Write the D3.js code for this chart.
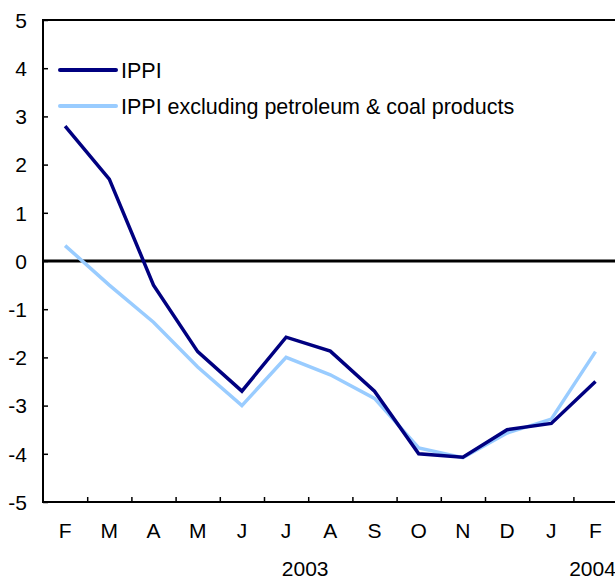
<!DOCTYPE html>
<html>
<head>
<meta charset="utf-8">
<script src="https://cdn.jsdelivr.net/npm/d3@7"></script>
<style>
  html, body { margin: 0; padding: 0; background: #fff; }
  svg { display: block; }
  text { font-family: "Liberation Sans", Arial, sans-serif; fill: #000; }
</style>
</head>
<body>
<svg id="chart" width="615" height="579"></svg>
<script>
const months = ["F","M","A","M","J","J","A","S","O","N","D","J","F"];
const ippi = [2.8, 1.7, -0.5, -1.88, -2.7, -1.58, -1.87, -2.7, -4.0, -4.07, -3.5, -3.37, -2.5];
const ippiExcl = [0.32, -0.5, -1.27, -2.2, -3.0, -2.0, -2.36, -2.85, -3.88, -4.08, -3.57, -3.28, -1.88];
const yTicks = [-5, -4, -3, -2, -1, 0, 1, 2, 3, 4, 5];
const yearLabels = [{label: "2003", pos: 5.5}, {label: "2004", pos: 12}];
const seriesNames = ["IPPI", "IPPI excluding petroleum & coal products"];
const seriesColors = ["#000080", "#99ccff"];

(function () {
const FS = 21;
const svg = d3.select("#chart");
const mLeft = 43, mTop = 20, mBottom = 502, step = 44.2;
const mRight = mLeft + step * months.length;

const x = d3.scaleBand().domain(d3.range(months.length)).range([mLeft, mRight]).padding(0);
const xb = d3.scaleLinear().domain([0, months.length]).range([mLeft, mRight]);
const y = d3.scaleLinear().domain([-5, 5]).range([mBottom, mTop]);

// top border
svg.append("line").attr("x1", mLeft).attr("x2", 615).attr("y1", y(5)).attr("y2", y(5))
  .attr("stroke", "#000").attr("stroke-width", 2);

// y axis
const yAxis = svg.append("g").attr("transform", `translate(${mLeft},0)`)
  .call(d3.axisLeft(y).tickValues(yTicks).tickSize(-5).tickPadding(16).tickFormat(d => String(d)));
yAxis.select(".domain").remove();
yAxis.selectAll(".tick line").attr("stroke", "#000").attr("stroke-width", 1.5);
yAxis.selectAll("text").attr("font-size", FS).attr("dy", "0.35em")
  .style("font-family", '"Liberation Sans", Arial, sans-serif');
svg.append("line").attr("x1", mLeft).attr("x2", mLeft).attr("y1", mTop - 1).attr("y2", mBottom + 1)
  .attr("stroke", "#000").attr("stroke-width", 2);

// x axis ticks at boundaries (inside)
const xTickAxis = svg.append("g").attr("transform", `translate(0,${mBottom})`)
  .call(d3.axisBottom(xb).tickValues(d3.range(1, months.length + 1)).tickSize(-5).tickFormat(""));
xTickAxis.select(".domain").remove();
xTickAxis.selectAll(".tick line").attr("stroke", "#000").attr("stroke-width", 1.5);

// x labels
const xLab = svg.append("g").attr("transform", `translate(0,${mBottom})`)
  .call(d3.axisBottom(x).tickSize(0).tickPadding(21).tickFormat(i => months[i]));
xLab.select(".domain").remove();
xLab.selectAll("text").attr("font-size", FS).style("font-family", '"Liberation Sans", Arial, sans-serif');

svg.append("line").attr("x1", mLeft - 1).attr("x2", 615).attr("y1", mBottom).attr("y2", mBottom)
  .attr("stroke", "#000").attr("stroke-width", 2);

// year labels
svg.selectAll(".year").data(yearLabels).enter().append("text")
  .attr("class", "year")
  .attr("x", d => xb(d.pos + 0.5) - 3)
  .attr("y", 576)
  .attr("text-anchor", "middle")
  .attr("font-size", FS)
  .text(d => d.label);

// zero line
svg.append("line").attr("x1", mLeft).attr("x2", 615).attr("y1", y(0)).attr("y2", y(0))
  .attr("stroke", "#000").attr("stroke-width", 3);

// series
const line = d3.line().x((d, i) => x(i) + x.bandwidth() / 2).y(d => y(d));
[[ippiExcl, 1], [ippi, 0]].forEach(([s, idx]) => {
  svg.append("path").datum(s).attr("d", line)
    .attr("fill", "none").attr("stroke", seriesColors[idx])
    .attr("stroke-width", 3.5).attr("stroke-linejoin", "miter");
});

// legend
const legendY = [70, 106];
seriesNames.forEach((name, i) => {
  svg.append("line").attr("x1", 60).attr("x2", 116).attr("y1", legendY[i]).attr("y2", legendY[i])
    .attr("stroke", seriesColors[i]).attr("stroke-width", 4).attr("stroke-linecap", "round");
  svg.append("text").attr("x", 121).attr("y", legendY[i]).attr("dy", "0.36em")
    .attr("font-size", FS + 0.5).text(name);
});
})();
</script>
</body>
</html>
